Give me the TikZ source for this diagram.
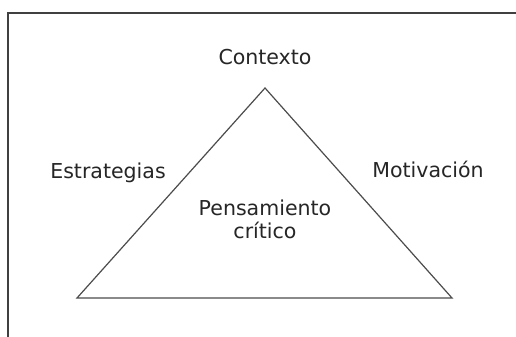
\documentclass[tikz,border=0pt]{standalone}
\usepackage{fontspec}
\setmainfont{DejaVu Sans}
\begin{document}
\begin{tikzpicture}[x=0.75pt,y=-0.75pt,
  lbl/.style={inner sep=0pt,anchor=base,font=\fontsize{15.4pt}{17.25pt}\selectfont,text=black!85},
  frame/.style={draw=black!75,line width=1.3pt},
  tri/.style={draw=black!70,line width=0.9pt,line join=miter}]
\useasboundingbox (0,0) rectangle (516,336);
\fill[white] (0,0) rectangle (516,336);
\begin{scope}
\clip (0,0) rectangle (516,336);
\draw[frame] (8,13) rectangle (530,350);
\end{scope}
\coordinate (apex) at (265,88);
\coordinate (bl) at (77,298);
\coordinate (br) at (452,298);
\draw[tri] (apex) -- (bl) -- (br) -- cycle;
\node[lbl] (ctx) at (265,64) {Contexto};
\node[lbl] (est) at (108,178) {Estrategias};
\node[lbl] (mot) at (428,177) {Motivación};
\node[lbl,align=center] (pc) at (265,238) {Pensamiento\\crítico};
\end{tikzpicture}
\end{document}
